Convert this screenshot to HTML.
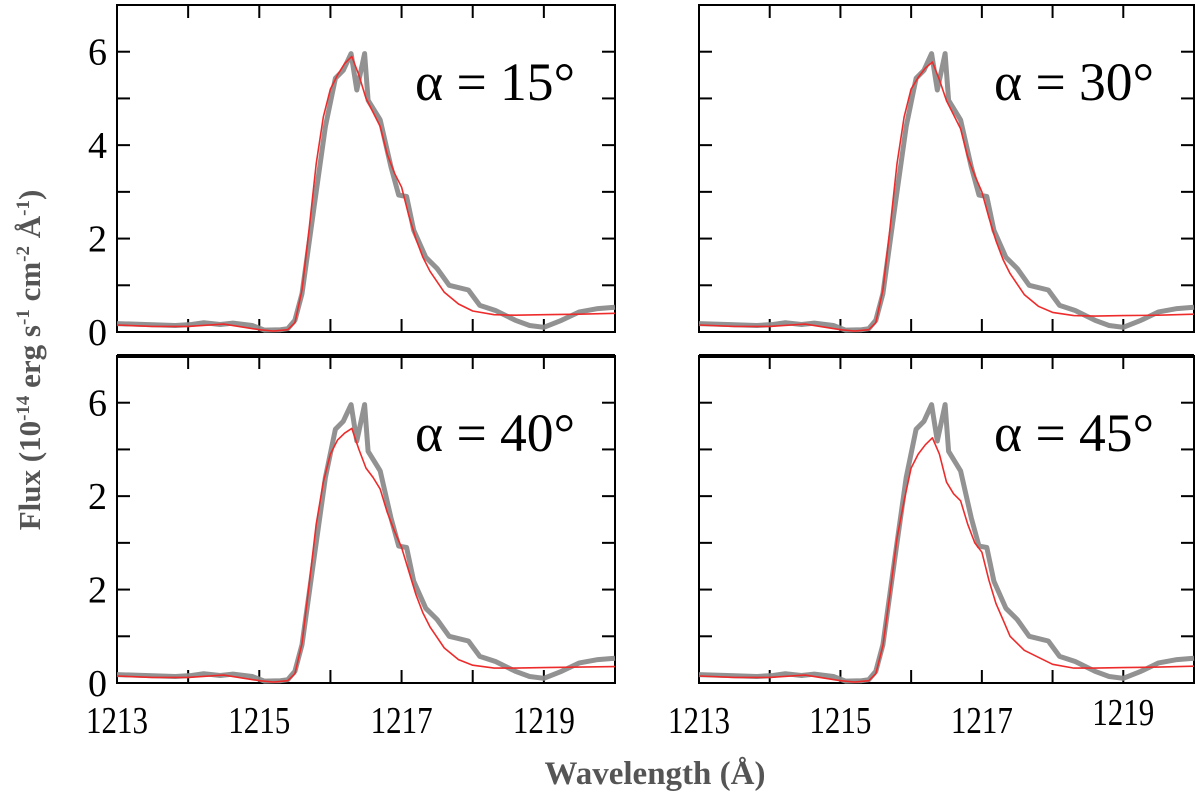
<!DOCTYPE html>
<html><head><meta charset="utf-8"><style>
html,body{margin:0;padding:0;background:#fff;width:1200px;height:800px;overflow:hidden}
svg{display:block}
text{font-family:"Liberation Serif",serif}
</style></head><body>
<svg id="chart" width="1200" height="800" viewBox="0 0 1200 800">
<text x="40" y="360" transform="rotate(-90 40 360)" text-anchor="middle" font-size="31" font-weight="bold" fill="#555">Flux (10<tspan dy="-11" font-size="19">-14</tspan><tspan dy="11"> erg s</tspan><tspan dy="-11" font-size="19">-1</tspan><tspan dy="11"> cm</tspan><tspan dy="-11" font-size="19">-2</tspan><tspan dy="11"> Å</tspan><tspan dy="-11" font-size="19">-1</tspan><tspan dy="11">)</tspan></text>
<text x="655" y="784" text-anchor="middle" font-size="33" font-weight="bold" fill="#555">Wavelength (Å)</text>
</svg>
<script>
const xDomain = [1213, 1220];
const yDomain = [0, 7];
const xTickLabels = [1213, 1215, 1217, 1219];
const yTickLabels = [0, 2, 4, 6];
const yTickLabelsBottom = ["0", "2", "2", "6"];
const panelAngles = ["15", "30", "40", "45"];
const obsWave = [1213,1213.4,1213.82,1214.05,1214.22,1214.45,1214.63,1214.9,1215.07,1215.3,1215.4,1215.5,1215.6,1215.77,1215.93,1216.07,1216.18,1216.29,1216.37,1216.48,1216.53,1216.7,1216.85,1216.96,1217.07,1217.17,1217.34,1217.5,1217.67,1217.94,1218.1,1218.32,1218.6,1218.8,1219.0,1219.25,1219.5,1219.76,1220];
const obsFlux = [0.18,0.16,0.14,0.16,0.2,0.16,0.19,0.14,0.04,0.05,0.07,0.25,0.82,2.68,4.4,5.43,5.6,5.96,5.18,5.96,4.96,4.54,3.54,2.93,2.9,2.18,1.6,1.36,1.0,0.9,0.57,0.46,0.25,0.14,0.1,0.25,0.43,0.5,0.53];
const modelWave = [1213,1213.5,1214,1214.5,1215,1215.2,1215.4,1215.5,1215.6,1215.7,1215.8,1215.9,1216.0,1216.1,1216.2,1216.3,1216.4,1216.5,1216.6,1216.7,1216.8,1216.9,1217.0,1217.1,1217.2,1217.3,1217.4,1217.6,1217.8,1218.0,1218.3,1218.6,1219,1219.5,1220];
const model15 = [0.15,0.12,0.12,0.17,0.05,0.02,0.05,0.2,0.9,2.2,3.6,4.6,5.2,5.5,5.75,5.9,5.5,5.0,4.7,4.4,3.8,3.4,3.1,2.5,2.0,1.6,1.3,0.85,0.6,0.45,0.37,0.36,0.37,0.38,0.4];
const model30 = [0.15,0.12,0.12,0.17,0.05,0.02,0.05,0.2,0.9,2.2,3.6,4.6,5.2,5.45,5.65,5.78,5.4,4.95,4.65,4.35,3.75,3.35,3.0,2.45,1.95,1.55,1.25,0.8,0.55,0.42,0.35,0.34,0.35,0.36,0.38];
const model40 = [0.15,0.12,0.12,0.17,0.05,0.02,0.05,0.2,0.85,2.1,3.4,4.3,4.9,5.2,5.35,5.45,5.0,4.6,4.4,4.15,3.65,3.25,2.9,2.4,1.9,1.5,1.2,0.75,0.5,0.38,0.32,0.32,0.33,0.34,0.35];
const model45 = [0.15,0.12,0.12,0.17,0.05,0.02,0.05,0.2,0.8,1.9,3.1,3.9,4.6,4.9,5.1,5.25,4.9,4.3,4.05,3.9,3.4,3.0,2.8,2.2,1.7,1.35,1.0,0.7,0.55,0.4,0.32,0.32,0.33,0.34,0.36];
const models = [model15, model30, model40, model45];

const NS = "http://www.w3.org/2000/svg";
const svg = document.getElementById("chart");
const panels = [
  {x0:117,x1:615,y0:5,y1:332,showY:true,showX:false,top:false},
  {x0:699,x1:1194,y0:5,y1:332,showY:false,showX:false,top:false},
  {x0:117,x1:615,y0:356,y1:683,showY:true,showX:true,top:true},
  {x0:699,x1:1194,y0:356,y1:683,showY:false,showX:true,top:true}
];
function mk(tag, attrs, parent){
  const e = document.createElementNS(NS, tag);
  for (const k in attrs) e.setAttribute(k, attrs[k]);
  (parent||svg).appendChild(e);
  return e;
}
panels.forEach((p, i) => {
  const g = mk("g", {});
  
  
  const sx = v => p.x0 + (v - xDomain[0]) / (xDomain[1] - xDomain[0]) * (p.x1 - p.x0);
  const sy = v => p.y1 - (v - yDomain[0]) / (yDomain[1] - yDomain[0]) * (p.y1 - p.y0);
  const frame = mk("rect", {x:p.x0,y:p.y0,width:p.x1-p.x0,height:p.y1-p.y0,fill:"none",stroke:"#000","stroke-width":2}, g);
  
  
  if (p.top) mk("line", {x1:p.x0,x2:p.x1,y1:p.y0,y2:p.y0,stroke:"#000","stroke-width":4}, g);
  for (let v = xDomain[0] + 1; v < xDomain[1]; v++) {
    const t1 = mk("line", {x1:sx(v),x2:sx(v),y1:p.y1,y2:p.y1-13,stroke:"#000","stroke-width":2}, g);
    
    
    mk("line", {x1:sx(v),x2:sx(v),y1:p.y0,y2:p.y0+13,stroke:"#000","stroke-width":2}, g);
  }
  for (let v = yDomain[0] + 1; v < yDomain[1]; v++) {
    const t2 = mk("line", {x1:p.x0,x2:p.x0+13,y1:sy(v),y2:sy(v),stroke:"#000","stroke-width":2}, g);
    
    
    mk("line", {x1:p.x1,x2:p.x1-13,y1:sy(v),y2:sy(v),stroke:"#000","stroke-width":2}, g);
  }
  if (p.showY) {
    yTickLabels.forEach((v, k) => {
      const t = mk("text", {x:p.x0-10,y:sy(v)+13,"text-anchor":"end","font-size":38,fill:"#000"}, g);
      t.textContent = p.top ? yTickLabelsBottom[k] : String(v);
      
      
    });
  }
  if (p.showX) {
    xTickLabels.forEach((v, k) => {
      const dy = (i === 3 && v === 1219) ? -8 : 0;
      const t = mk("text", {x:sx(v)-31,y:p.y1+50+dy,"font-size":38,textLength:62,lengthAdjust:"spacingAndGlyphs",fill:"#000"}, g);
      t.textContent = String(v);
      
      
    });
  }
  const obs = mk("path", {d: obsWave.map((w,k)=>(k?"L":"M")+sx(w).toFixed(1)+","+sy(obsFlux[k]).toFixed(1)).join(""), fill:"none", stroke:"#8c8c8c", "stroke-width":5, "stroke-linejoin":"round", opacity:0.95}, g);
  
  
  const m = models[i];
  const mod = mk("path", {d: modelWave.map((w,k)=>(k?"L":"M")+sx(w).toFixed(1)+","+sy(m[k]).toFixed(1)).join(""), fill:"none", stroke:"#ee2b2b", "stroke-width":1.6, "stroke-linejoin":"round"}, g);
  
  
  const lab = mk("text", {x:p.x1-200,y:p.y0+95,"font-size":54,textLength:160,lengthAdjust:"spacingAndGlyphs",fill:"#000"}, g);
  lab.textContent = "α = " + panelAngles[i] + "°";
  
  
});
</script>
</body></html>
